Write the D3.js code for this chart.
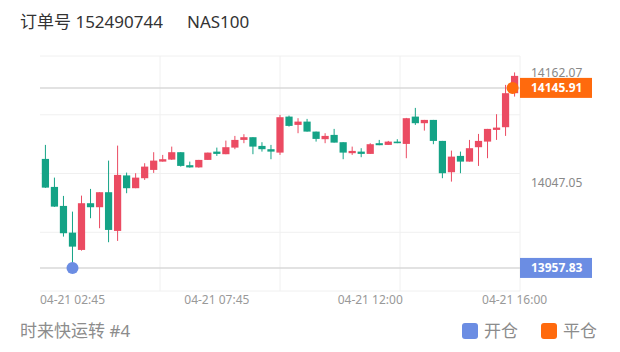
<!DOCTYPE html>
<html>
<head>
<meta charset="utf-8">
<script src="https://cdn.jsdelivr.net/npm/d3@7/dist/d3.min.js"></script>
<style>
  body { margin: 0; background: #fff; }
  svg { display: block; }
  text { font-family: "Noto Sans", "Noto Sans CJK SC", sans-serif; }
</style>
</head>
<body>
<svg id="chart" width="620" height="352"></svg>
<script>
// candle times (15 min bars, 04-21)
var times = ["02:00","02:15","02:30","02:45",
  "04:00","04:15","04:30","04:45","05:00","05:15","05:30","05:45","06:00","06:15","06:30","06:45","07:00","07:15","07:30","07:45",
  "08:00","08:15","08:30","08:45","09:00","09:15","09:30","09:45","10:00","10:15","10:30","10:45","11:00","11:15","11:30","11:45",
  "12:00","12:15","12:30","12:45","13:00","13:15","13:30","13:45","14:00","14:15","14:30","14:45","15:00","15:15","15:30","15:45","16:00"];

var open = [14071.72,14042.46,14022.61,13994.71,13976.63,14025.43,14021.25,14036.93,13996.49,14054.48,
  14041.11,14051.55,14060.23,14068.90,14070.99,14078.72,14065.14,14062.84,14070.68,14079.35,
  14076.63,14083.53,14091.57,14094.40,14085.30,14081.86,14078.30,14115.92,14107.25,14110.70,
  14100.25,14092.31,14096.80,14089.17,14077.68,14079.35,14076.95,14088.13,14086.35,14089.80,
  14087.39,14115.92,14109.02,14112.47,14090.53,14057.82,14074.86,14068.90,14083.95,14089.80,
  14102.02,14104.84,14140.37];
var high = [14086.35,14052.18,14033.06,14016.65,14033.37,14040.37,14036.93,14069.94,14085.62,14057.41,
  14056.78,14067.23,14078.72,14075.90,14084.57,14078.72,14068.90,14070.68,14078.30,14083.53,
  14090.84,14095.75,14097.53,14094.40,14089.17,14086.35,14117.70,14116.96,14114.25,14113.52,
  14100.25,14098.57,14103.07,14089.17,14084.57,14082.90,14088.13,14091.57,14090.53,14092.31,
  14114.56,14125.01,14112.47,14112.47,14090.53,14080.39,14079.35,14091.57,14097.84,14103.07,
  14118.43,14149.04,14162.07];
var low = [14041.42,14021.57,13990.53,13957.83,13975.90,14009.76,13999.31,13984.68,13986.04,14035.88,
  14041.11,14049.78,14057.09,14068.90,14070.68,14063.68,14062.63,14062.63,14070.68,14074.86,
  14076.63,14081.86,14088.13,14076.63,14079.35,14071.41,14075.90,14105.47,14098.57,14100.25,
  14089.80,14088.13,14088.75,14071.41,14075.90,14073.50,14076.95,14086.04,14086.35,14088.13,
  14072.45,14107.25,14101.29,14087.08,14051.55,14048.00,14056.78,14068.90,14064.41,14072.45,
  14091.57,14095.75,14136.82];
var close = [14041.73,14021.88,13994.08,13980.08,14025.43,14021.25,14036.93,13997.53,14055.00,14041.11,
  14052.18,14063.68,14069.94,14071.41,14078.72,14064.41,14062.84,14070.68,14078.30,14076.95,
  14083.95,14091.57,14094.40,14084.57,14081.86,14079.35,14115.29,14106.20,14110.70,14100.25,
  14092.62,14095.75,14088.75,14078.30,14080.08,14076.95,14087.08,14086.04,14089.80,14088.13,
  14114.25,14109.02,14112.47,14090.53,14056.78,14074.12,14068.90,14082.90,14090.53,14103.07,
  14104.43,14140.37,14158.45];

var xTicks = ["02:45","07:45","12:00","16:00"];
var tickDate = "04-21";
var priceTicks = [14162.07, 14047.05];

var openTime = "02:45", openPrice = 13957.83;
var closeTime = "16:00", closePrice = 14145.91;

var upColor = "#eb4b62", downColor = "#14a386";
var openColor = "#6b8de3", closeColor = "#ff6a0d";

var svg = d3.select("#chart"),
    margin = {top: 56, left: 40, bottom: 61, right: 100},
    width = 620, height = 352;

var data = times.map(function(t, i) {
  return {t: t, o: open[i], h: high[i], l: low[i], c: close[i]};
});

var x = d3.scaleBand()
  .domain(times)
  .range([margin.left, width - margin.right])
  .padding(0.2);

var lo = d3.min(low), hi = d3.max(high), span = hi - lo;
var y = d3.scaleLinear()
  .domain([lo - span * 0.118, hi + span * 0.084])
  .range([height - margin.bottom, margin.top]);

var cx = function(t) { return x(t) + x.bandwidth() / 2; };

// grid
var gx = d3.scaleLinear().domain([0, 4]).range([margin.left, width - margin.right]);
var gy = d3.scaleLinear().domain([0, 4]).range([margin.top, height - margin.bottom]);

svg.append("g").selectAll("line").data([1, 2, 3, 4]).enter().append("line")
  .attr("x1", d => gx(d)).attr("x2", d => gx(d))
  .attr("y1", margin.top).attr("y2", height - margin.bottom)
  .attr("stroke", "#f0f0f0");

svg.append("g").selectAll("line").data([0, 1, 2, 3, 4]).enter().append("line")
  .attr("x1", margin.left).attr("x2", width - margin.right)
  .attr("y1", d => gy(d)).attr("y2", d => gy(d))
  .attr("stroke", "#f0f0f0");

// price lines for open / close
[openPrice, closePrice].forEach(function(p) {
  svg.append("line")
    .attr("x1", margin.left).attr("x2", width - margin.right)
    .attr("y1", y(p)).attr("y2", y(p))
    .attr("stroke", "#d9d9d9").attr("stroke-width", 1.5);
});

// candles
var candle = svg.append("g").selectAll("g").data(data).enter().append("g")
  .attr("fill", d => d.c >= d.o ? upColor : downColor)
  .attr("stroke", d => d.c >= d.o ? upColor : downColor);

candle.append("line")
  .attr("x1", d => cx(d.t)).attr("x2", d => cx(d.t))
  .attr("y1", d => y(d.h)).attr("y2", d => y(d.l))
  .attr("stroke-width", 1);

candle.append("rect")
  .attr("x", d => x(d.t))
  .attr("width", x.bandwidth())
  .attr("y", d => y(Math.max(d.o, d.c)))
  .attr("height", d => Math.max(1, Math.abs(y(d.o) - y(d.c))))
  .attr("stroke", "none");

// trade markers
svg.append("circle").attr("cx", cx(openTime)).attr("cy", y(openPrice)).attr("r", 6).attr("fill", openColor);
svg.append("circle").attr("cx", cx(closeTime) - 2).attr("cy", y(closePrice)).attr("r", 6).attr("fill", closeColor);

// right axis
svg.append("g").selectAll("text").data(priceTicks).enter().append("text")
  .attr("x", width - margin.right + 11)
  .attr("y", d => y(d))
  .attr("dy", "0.35em")
  .attr("font-size", 12).attr("fill", "#888")
  .text(d => d.toFixed(2));

[[closePrice, closeColor], [openPrice, openColor]].forEach(function(p) {
  svg.append("rect")
    .attr("x", width - margin.right).attr("y", y(p[0]) - 10)
    .attr("width", 72).attr("height", 20)
    .attr("fill", p[1]);
  svg.append("text")
    .attr("x", width - margin.right + 11).attr("y", y(p[0]))
    .attr("dy", "0.36em")
    .attr("font-size", 12).attr("font-weight", "bold").attr("fill", "#fff")
    .text(p[0].toFixed(2));
});

// bottom axis labels
svg.append("g").selectAll("text").data(xTicks).enter().append("text")
  .attr("x", d => cx(d))
  .attr("y", height - margin.bottom + 13)
  .attr("text-anchor", "middle")
  .attr("font-size", 12).attr("fill", "#999")
  .text(d => tickDate + " " + d);

// title
svg.append("text").attr("x", 20).attr("y", 28).attr("font-size", 17).attr("fill", "#333")
  .text("订单号 152490744");
svg.append("text").attr("x", 187).attr("y", 28).attr("font-size", 17).attr("fill", "#333")
  .text("NAS100");

// footer
svg.append("text").attr("x", 20).attr("y", 337).attr("font-size", 17).attr("fill", "#8c8c8c")
  .text("时来快运转 #4");

var legend = [["开仓", openColor, 462], ["平仓", closeColor, 541]];
legend.forEach(function(l) {
  svg.append("rect").attr("x", l[2]).attr("y", 323).attr("width", 16).attr("height", 16)
    .attr("rx", 3).attr("fill", l[1]);
  svg.append("text").attr("x", l[2] + 22).attr("y", 337).attr("font-size", 17).attr("fill", "#8c8c8c")
    .text(l[0]);
});
</script>
</body>
</html>
